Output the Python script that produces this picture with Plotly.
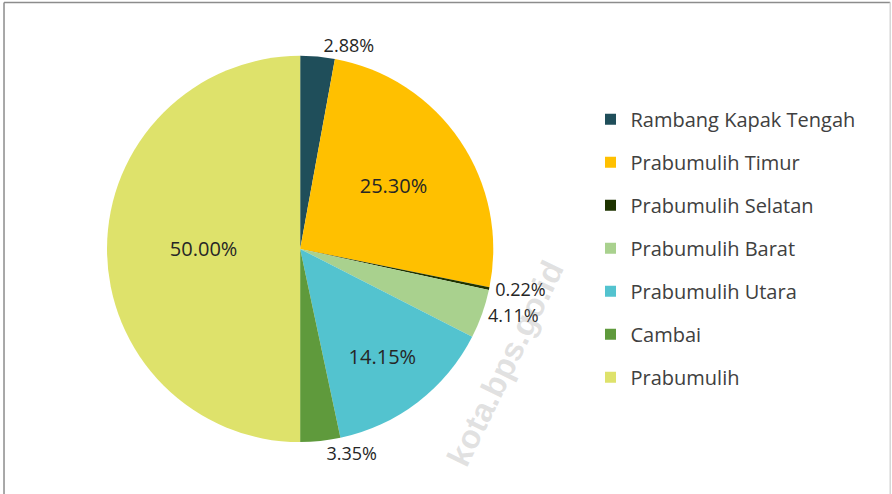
import plotly.graph_objects as go

# Share of each kecamatan (percent), clockwise from 12 o'clock
districts = ["Rambang Kapak Tengah", "Prabumulih Timur", "Prabumulih Selatan",
             "Prabumulih Barat", "Prabumulih Utara", "Cambai", "Prabumulih"]
shares = [2.88, 25.30, 0.22, 4.11, 14.15, 3.35, 50.00]
share_labels = ["2.88%", "25.30%", "0.22%", "4.11%", "14.15%", "3.35%", "50.00%"]
label_pos = ["outside", "inside", "outside", "outside", "inside", "outside", "inside"]
colors = ["#1F4E5A", "#FFC000", "#1E3300", "#A9D18E", "#53C3CF", "#5F9A3C", "#DEE26B"]

font_family = "Open Sans, Noto Sans, sans-serif"

fig = go.Figure()

fig.add_trace(go.Pie(
    labels=districts,
    values=shares,
    text=share_labels,
    textinfo="text",
    textposition=label_pos,
    insidetextorientation="horizontal",
    sort=False,
    direction="clockwise",
    rotation=0,
    marker=dict(colors=colors, line=dict(width=0)),
    insidetextfont=dict(family=font_family, size=20, color="#262626"),
    outsidetextfont=dict(family=font_family, size=18, color="#262626"),
    domain=dict(x=[0.12, 0.553], y=[0.105, 0.887]),
    showlegend=False,
))

# legend entries drawn as square markers so the row spacing can match
for name, col in zip(districts, colors):
    fig.add_trace(go.Scatter(
        x=[None], y=[None], mode="markers", name=name, legendgroup=name,
        marker=dict(symbol="square", size=11, color=col),
    ))

# faint site watermark
fig.add_annotation(
    text="<b>kota.bps.go.id</b>", x=0.566, y=0.265, xref="paper", yref="paper",
    xanchor="center", yanchor="middle",
    showarrow=False, textangle=-64,
    font=dict(family="Liberation Sans", size=33, color="rgba(150,150,150,0.28)"),
)

# frame around the chart
fig.add_shape(type="line", xref="paper", yref="paper",
              x0=0.0045, x1=0.998, y0=0.995, y1=0.995,
              line=dict(color="#8c8c8c", width=1.5))
fig.add_shape(type="line", xref="paper", yref="paper",
              x0=0.0045, x1=0.0045, y0=0.0, y1=0.995,
              line=dict(color="#8c8c8c", width=1.5))
fig.add_shape(type="line", xref="paper", yref="paper",
              x0=0.998, x1=0.998, y0=0.0, y1=0.995,
              line=dict(color="#d6d6d6", width=1.5))

fig.update_layout(
    width=892, height=494,
    margin=dict(l=0, r=0, t=0, b=0),
    paper_bgcolor="white", plot_bgcolor="white",
    xaxis=dict(visible=False), yaxis=dict(visible=False),
    legend=dict(x=0.662, y=0.798, xanchor="left", yanchor="top",
                font=dict(family=font_family, size=20, color="#404040"),
                tracegroupgap=14, itemwidth=30),
    font=dict(family=font_family),
)

fig.write_html("out.html", config={"displayModeBar": False},
               post_script="document.body.style.margin='0px';")
